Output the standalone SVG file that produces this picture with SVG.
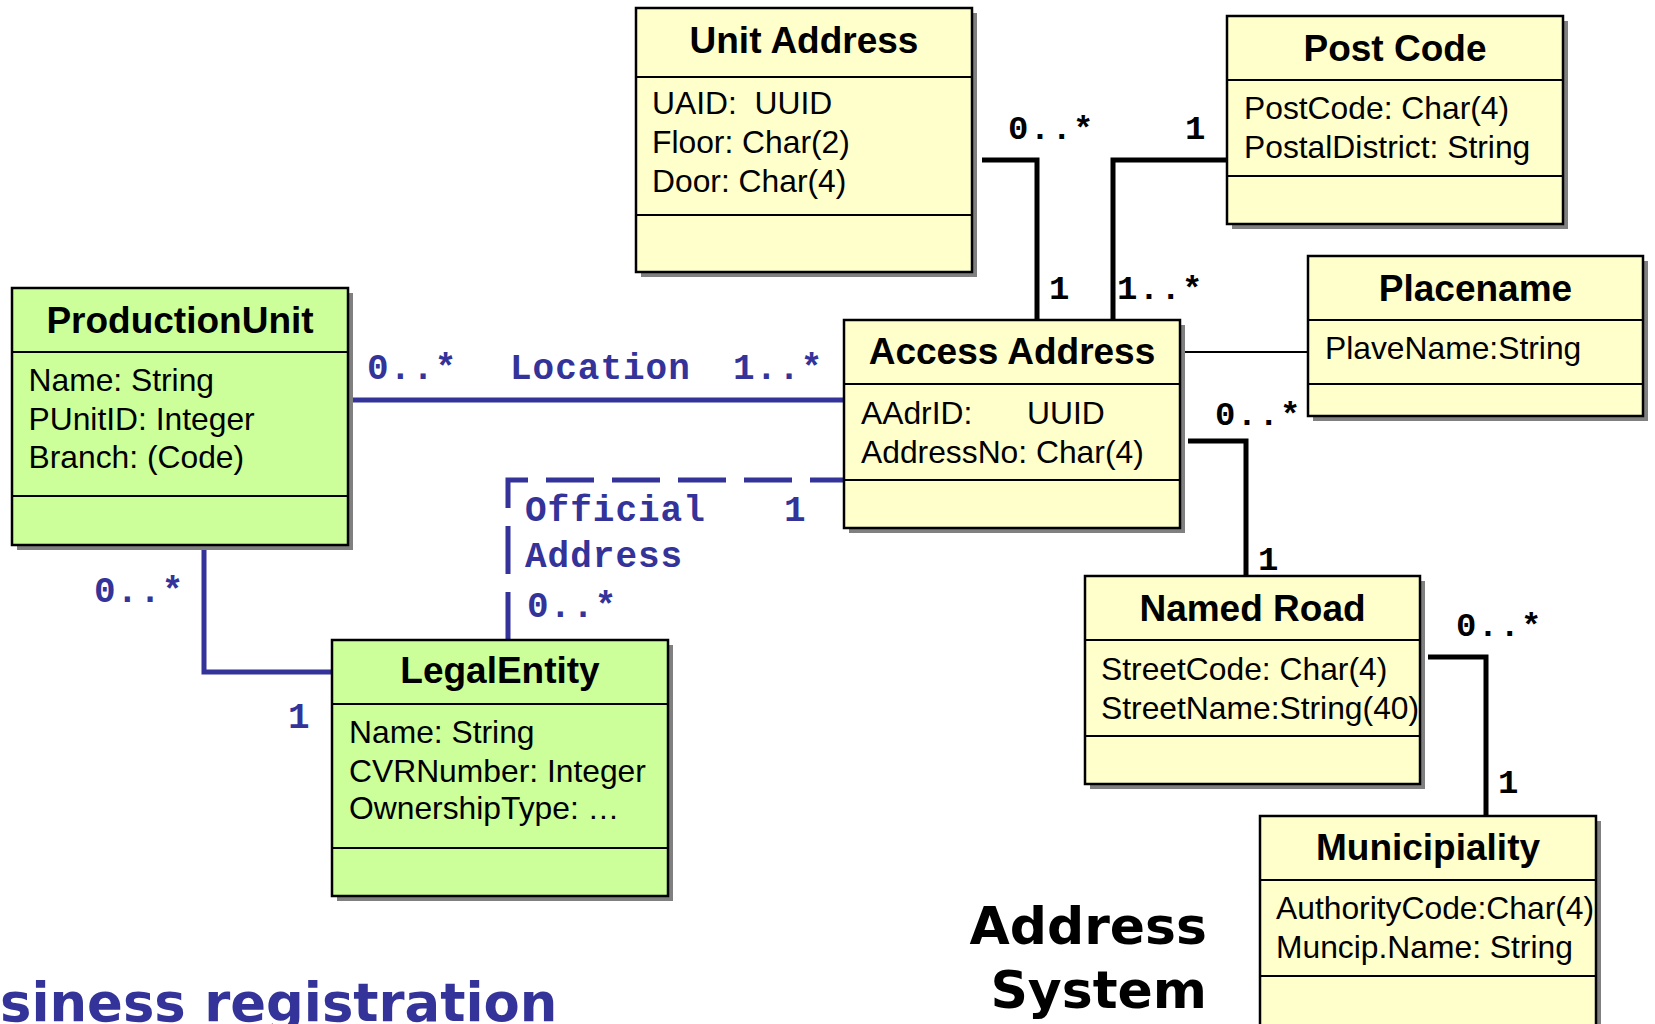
<svg xmlns="http://www.w3.org/2000/svg" width="1655" height="1024" viewBox="0 0 1655 1024">
<style>
.shadow{fill:#808080}
.box{stroke:#000;stroke-width:2.5}
.green{fill:#CCFF99}
.yellow{fill:#FFFFCC}
.dv{stroke:#000;stroke-width:2}
.title{font-family:"Liberation Sans",Arial,sans-serif;font-weight:bold;font-size:37px;text-anchor:middle;fill:#000}
.attr{font-family:"Liberation Sans",Arial,sans-serif;font-size:31.8px;fill:#000}
.mult{font-family:"Liberation Mono","Courier New",monospace;font-weight:bold;font-size:34px;letter-spacing:1.3px;fill:#000}
.blue{font-family:"Liberation Mono","Courier New",monospace;font-weight:bold;font-size:36px;letter-spacing:1px;fill:#333399}
.big{font-family:"DejaVu Sans",Verdana,sans-serif;font-weight:bold;font-size:52px}
.bl{fill:none;stroke:#333399;stroke-width:5;stroke-linejoin:miter}
.bk{fill:none;stroke:#000;stroke-width:5;stroke-linejoin:miter}
</style>
<rect width="1655" height="1024" fill="#fff"/>

<g id="connectors">
  <path class="bl" d="M348,400 H844"/>
  <path class="bl" d="M204,545 V672 H332"/>
  <path class="bl" d="M508,640 V480 H844" stroke-dasharray="48 18"/>
  <path class="bk" d="M982,160 H1037 V320"/>
  <path class="bk" d="M1113,320 V160 H1227"/>
  <path d="M1180,352 H1308" fill="none" stroke="#000" stroke-width="2"/>
  <path class="bk" d="M1188,441 H1246 V576"/>
  <path class="bk" d="M1428,657 H1486 V816"/>
  <text class="blue" x="367" y="379">0..*</text>
  <text class="blue" x="510" y="379">Location</text>
  <text class="blue" x="733" y="379">1..*</text>
  <text class="blue" x="525" y="521">Official</text>
  <text class="blue" x="525" y="567">Address</text>
  <text class="blue" x="784" y="521">1</text>
  <text class="blue" x="527" y="617">0..*</text>
  <text class="blue" x="94" y="602">0..*</text>
  <text class="blue" x="288" y="728">1</text>
  <text class="mult" x="1008" y="139">0..*</text>
  <text class="mult" x="1185" y="139">1</text>
  <text class="mult" x="1049" y="299">1</text>
  <text class="mult" x="1117" y="299">1..*</text>
  <text class="mult" x="1215" y="425">0..*</text>
  <text class="mult" x="1258" y="570">1</text>
  <text class="mult" x="1456" y="636">0..*</text>
  <text class="mult" x="1498" y="793">1</text>
</g>

<g id="unit-address">
  <rect class="shadow" x="641" y="13" width="336" height="264"/>
  <rect class="box yellow" x="636" y="8" width="336" height="264"/>
  <line class="dv" x1="636" y1="77" x2="972" y2="77"/>
  <line class="dv" x1="636" y1="215" x2="972" y2="215"/>
  <text class="title" x="804" y="53">Unit Address</text>
  <text class="attr" x="652" y="114" xml:space="preserve">UAID:  UUID</text>
  <text class="attr" x="652" y="153">Floor: Char(2)</text>
  <text class="attr" x="652" y="192">Door: Char(4)</text>
</g>

<g id="post-code">
  <rect class="shadow" x="1232" y="21" width="336" height="208"/>
  <rect class="box yellow" x="1227" y="16" width="336" height="208"/>
  <line class="dv" x1="1227" y1="80" x2="1563" y2="80"/>
  <line class="dv" x1="1227" y1="176" x2="1563" y2="176"/>
  <text class="title" x="1395" y="61">Post Code</text>
  <text class="attr" x="1244" y="119">PostCode: Char(4)</text>
  <text class="attr" x="1244" y="158">PostalDistrict: String</text>
</g>

<g id="placename">
  <rect class="shadow" x="1313" y="261" width="335" height="160"/>
  <rect class="box yellow" x="1308" y="256" width="335" height="160"/>
  <line class="dv" x1="1308" y1="320" x2="1643" y2="320"/>
  <line class="dv" x1="1308" y1="384" x2="1643" y2="384"/>
  <text class="title" x="1475.5" y="301">Placename</text>
  <text class="attr" x="1325" y="359">PlaveName:String</text>
</g>

<g id="production-unit">
  <rect class="shadow" x="17" y="293" width="336" height="257"/>
  <rect class="box green" x="12" y="288" width="336" height="257"/>
  <line class="dv" x1="12" y1="352" x2="348" y2="352"/>
  <line class="dv" x1="12" y1="496" x2="348" y2="496"/>
  <text class="title" x="180" y="333">ProductionUnit</text>
  <text class="attr" x="28.5" y="391">Name: String</text>
  <text class="attr" x="28.5" y="429.5">PUnitID: Integer</text>
  <text class="attr" x="28.5" y="468">Branch: (Code)</text>
</g>

<g id="access-address">
  <rect class="shadow" x="849" y="325" width="336" height="208"/>
  <rect class="box yellow" x="844" y="320" width="336" height="208"/>
  <line class="dv" x1="844" y1="384" x2="1180" y2="384"/>
  <line class="dv" x1="844" y1="480" x2="1180" y2="480"/>
  <text class="title" x="1012" y="364">Access Address</text>
  <text class="attr" x="861" y="424">AAdrID:<tspan x="1027">UUID</tspan></text>
  <text class="attr" x="861" y="463">AddressNo: Char(4)</text>
</g>

<g id="legal-entity">
  <rect class="shadow" x="337" y="645" width="336" height="256"/>
  <rect class="box green" x="332" y="640" width="336" height="256"/>
  <line class="dv" x1="332" y1="704" x2="668" y2="704"/>
  <line class="dv" x1="332" y1="848" x2="668" y2="848"/>
  <text class="title" x="500" y="683">LegalEntity</text>
  <text class="attr" x="349" y="743">Name: String</text>
  <text class="attr" x="349" y="782">CVRNumber: Integer</text>
  <text class="attr" x="349" y="819">OwnershipType: …</text>
</g>

<g id="named-road">
  <rect class="shadow" x="1090" y="581" width="335" height="208"/>
  <rect class="box yellow" x="1085" y="576" width="335" height="208"/>
  <line class="dv" x1="1085" y1="640" x2="1420" y2="640"/>
  <line class="dv" x1="1085" y1="736" x2="1420" y2="736"/>
  <text class="title" x="1252.5" y="621">Named Road</text>
  <text class="attr" x="1101" y="680">StreetCode: Char(4)</text>
  <text class="attr" x="1101" y="719">StreetName:String(40)</text>
</g>

<g id="municipiality">
  <rect class="shadow" x="1265" y="821" width="336" height="210"/>
  <rect class="box yellow" x="1260" y="816" width="336" height="210"/>
  <line class="dv" x1="1260" y1="880" x2="1596" y2="880"/>
  <line class="dv" x1="1260" y1="976" x2="1596" y2="976"/>
  <text class="title" x="1428" y="860">Municipiality</text>
  <text class="attr" x="1276" y="919">AuthorityCode:Char(4)</text>
  <text class="attr" x="1276" y="958">Muncip.Name: String</text>
</g>

<g id="labels">
  <text class="big" x="1207" y="944" text-anchor="end" fill="#000">Address</text>
  <text class="big" x="1207" y="1008" text-anchor="end" fill="#000">System</text>
  <text class="big" x="0" y="1021" fill="#333399" style="font-size:52.8px">siness registration</text>
</g>
</svg>
